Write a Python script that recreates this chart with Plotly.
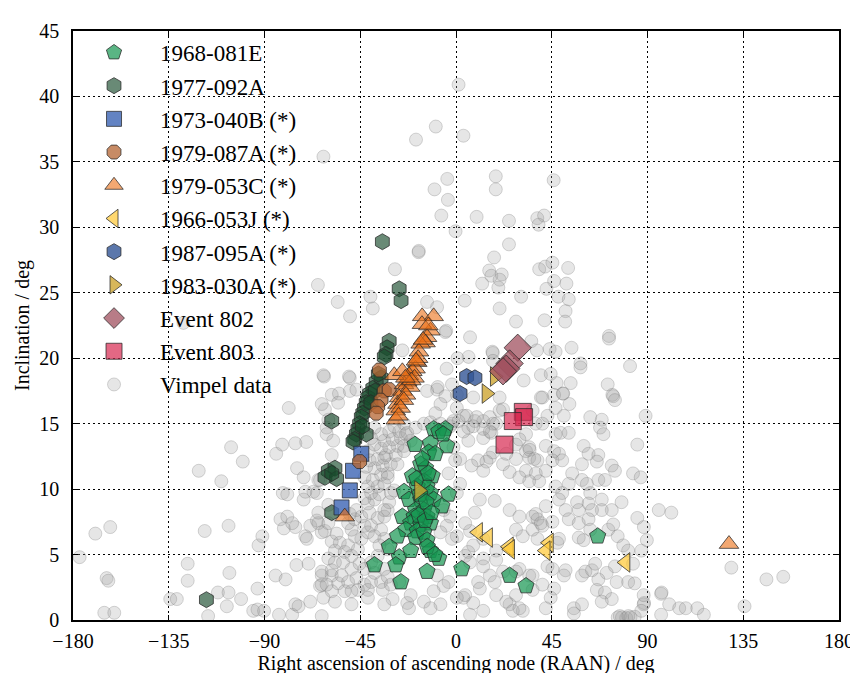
import plotly.graph_objects as go

# ---------------- data (RAAN deg, inclination deg) ----------------
obj_1968_081E = [(-10.5,14.6),(-5.0,14.6),(-8.1,14.4),(-19.3,13.4),(-12.0,13.5),(-4.3,13.3),(-12.8,12.8),
    (-9.7,12.7),(-16.6,11.9),(-14.3,11.6),(-20.5,11.0),(-11.2,11.0),(-15.1,10.6),(-18.2,10.2),(-13.6,10.2),
    (-12.0,9.7),(-3.5,9.6),(-24.4,9.8),(-22.1,9.2),(-16.6,9.2),(-10.5,9.2),(-6.6,8.7),(-19.0,8.4),(-15.1,8.4),
    (-25.2,7.9),(-19.7,7.9),(-13.6,7.9),(-21.3,7.4),(-16.6,7.3),(-12.0,7.4),(-23.6,6.9),(-18.2,6.8),(-27.5,6.4),
    (-19.0,6.3),(-15.1,6.7),(-13.6,6.1),(-26.7,4.8),(-31.4,5.6),(-21.3,5.3),(-12.0,5.3),(-28.3,4.2),(-38.3,4.2),
    (-13.6,3.7),(-8.1,4.7),(2.7,3.9),(-25.9,2.9),(25.2,3.4),(32.9,2.6),(66.6,6.4),(-17.0,9.6),(-14.0,9.0),
    (-17.5,8.0),(-14.5,7.6),(-11.5,8.2),(-18.5,10.8),(-13.0,11.2),(-15.8,12.3),(-13.5,5.6),(-10.0,5.0),(-6.0,14.2)]
obj_1977_092A = [(-34.6,28.9),(-26.7,25.3),(-25.8,24.4),(-31.4,21.3),(-32.4,20.8),(-32.9,20.3),(-33.7,20.1),
    (-35.2,18.5),(-37.5,18.2),(-39.1,17.7),(-40.6,17.3),(-41.4,17.0),(-42.2,16.6),(-43.0,16.2),(-43.8,15.8),
    (-44.5,15.5),(-45.3,15.0),(-46.1,14.6),(-46.8,14.2),(-47.6,13.8),(-42.2,14.2),(-48.4,13.6),(-58.4,15.2),
    (-60.0,11.4),(-56.9,11.6),(-61.6,10.9),(-56.1,10.8),(-58.4,8.2),(-58.4,11.2),(-117.3,1.55),(-36.5,18.8),
    (-38.0,17.5),(-40.0,16.6),(-44.0,14.8)]
obj_1973_040B = [(-44.5,12.7),(-48.4,11.4),(-49.9,9.9),(-53.8,8.6)]
obj_1979_087A = [(-36.0,19.1),(-33.7,17.5),(-35.2,16.8),(-36.8,16.3),(-37.5,15.8),(-31.4,17.6),(-45.3,12.1)]
obj_1979_053C = [(-15.9,23.2),(-10.5,23.2),(-12.0,22.1),(-13.6,21.6),(-14.3,21.2),(-16.6,21.1),(-17.4,20.5),
    (-18.2,19.7),(-19.0,19.2),(-20.5,19.0),(-22.1,18.7),(-22.9,18.2),(-24.4,18.0),(-25.2,17.5),(-26.7,17.0),
    (-27.5,16.5),(-28.3,16.0),(-29.0,18.7),(-25.2,19.0),(-28.3,15.3),(-52.3,7.9),(128.3,5.8),(-16.0,22.6),
    (-13.0,22.5),(-17.8,20.0),(-19.5,18.5),(-21.5,17.8),(-23.5,17.2),(-24.5,16.8),(-26.0,16.2),(-27.0,15.6),
    (-18.8,19.8),(-21.0,18.3),(-15.5,21.4),(-23.8,18.5)]
obj_1966_053J = [(10.4,6.7),(15.1,6.3),(24.9,5.6),(25.5,5.4),(43.7,5.9),(42.2,5.3),(79.7,4.4)]
obj_1987_095A = [(5.0,18.6),(8.9,18.5),(1.9,17.3)]
obj_1983_030A = [(18.2,18.6),(14.3,17.3),(-17.4,9.9)]
event_802 = [(29.0,20.8),(25.2,19.6),(23.6,19.2),(22.1,19.0)]
event_803 = [(31.4,15.9),(32.0,15.5),(26.7,15.2),(22.8,13.4)]

vimpel = [
 (1.2,40.9),(3.5,37.0),(-9.5,37.7),(-18.8,36.7),(-62.3,35.4),(-4.1,33.7),(-10.1,32.9),(18.7,33.9),(18.7,32.9),
 (-3.8,32.1),(-6.9,30.9),(9.7,30.8),(24.9,30.5),(38.2,30.7),(41.4,30.9),(38.8,30.2),(45.9,33.6),(-0.2,29.7),
 (-17.6,28.1),(-17.5,28.2),(24.9,28.7),(17.9,27.7),(15.6,26.7),(16.6,26.3),(21.5,26.4),(20.5,26.0),(12.3,25.7),
 (19.9,25.4),(39.1,26.8),(41.9,27.0),(45.3,27.3),(52.7,26.9),(46.1,25.9),(51.9,25.7),(42.5,25.3),(48.1,24.7),
 (53.0,24.5),(30.6,24.7),(4.1,24.4),(20.5,23.8),(51.5,23.6),(51.3,22.8),(41.6,22.9),(28.2,22.8),(-5.0,22.0),
 (-4.6,22.1),(6.6,21.6),(35.4,21.3),(38.0,20.6),(44.0,20.7),(46.8,20.5),(54.3,20.8),(71.9,21.7),(71.9,21.5),
 (58.5,19.6),(58.5,19.3),(81.8,19.4),(17.1,20.5),(17.3,20.4),(0.7,20.0),(5.9,20.1),(-4.4,19.2),(-1.9,18.0),
 (-8.9,17.6),(-8.6,17.8),(39.9,18.7),(44.5,18.8),(31.8,18.3),(47.3,18.1),(53.9,18.1),(71.3,18.0),(73.5,17.2),
 (50.4,17.3),(40.6,17.0),(-13.6,24.3),(-8.9,23.9),(-28.7,26.8),(-64.9,25.6),(-55.6,24.3),(-40.2,24.7),
 (-39.1,23.8),(-49.8,23.2),(-62.0,18.6),(-49.9,18.5),(-25.2,20.6),(-128.1,22.7),(17.4,19.8),
 (-176.9,4.8),(-169.5,6.6),(-162.5,7.1),(-164.2,3.2),(-163.4,3.0),(-165.3,0.55),(-160.6,0.55),(-120.9,11.4),
 (-126.1,4.3),(-126.1,3.0),(-134.3,1.6),(-131.2,1.6),(-118.1,6.8),(-116.5,0.3),(-111.9,2.1),(-110.3,10.6),
 (-106.9,7.2),(-106.9,2.1),(-106.5,3.6),(-107.7,1.05),(-105.7,13.2),(-101.0,1.6),(-100.2,12.1),(-95.3,0.7),
 (-93.3,0.8),(-93.3,2.4),(-92.8,5.7),(-91.0,6.4),(-90.2,0.7),(-84.8,3.4),(-84.5,12.7),(-83.2,0.4),(-82.5,7.7),
 (-81.7,13.4),(-81.4,9.7),(-80.9,7.0),(-80.1,3.1),(-78.6,16.2),(-75.5,13.5),(-75.5,7.1),(-75.5,1.2),(-75.0,4.2),
 (-74.7,11.6),(-71.6,10.9),(-71.6,9.2),(-70.8,6.4),(-70.4,13.6),(-69.3,4.3),(-68.5,1.4),(-67.0,9.8),(-64.7,10.7),
 (-79.3,9.6),(-79.3,7.9),(-77.0,7.4),(-68.5,7.2),(-65.4,7.6),(-65.4,9.7),(-70.8,9.8),(-70.1,6.2),(-77.0,0.4),
 (-74.0,1.05),(-63.1,0.3),(-63.9,2.6),(-63.1,3.4),
 (-64.7,7.4),(-64.7,8.2),(-61.6,6.8),(-60.0,8.8),(-58.4,6.0),(-56.9,5.3),(-60.0,4.7),(-56.9,4.4),(-63.1,3.7),
 (-58.4,3.4),(-63.1,2.7),(-55.4,2.8),(-58.4,2.2),(-62.3,1.7),(-58.4,12.6),(-60.8,14.7),(-60.0,15.3),(-61.6,16.1),
 (-63.1,16.5),(-58.4,17.2),(-55.0,17.3),(-55.4,16.6),(-49.9,17.5),(-50.3,18.6),(-62.3,18.7),(-46.8,17.6),
 (-60.8,14.2),(-57.7,13.7),(-63.9,10.7),
 (-63.1,6.7),(-60.0,7.4),(-56.1,6.6),(-54.6,5.9),(-50.7,5.7),(-52.3,5.2),(-49.1,4.9),(-46.1,5.4),(-44.5,6.2),
 (-41.4,6.7),(-43.0,7.2),(-39.9,7.2),(-38.3,6.4),(-47.6,6.4),(-49.1,6.9),(-50.7,7.4),(-47.6,7.7),(-44.5,7.9),
 (-40.6,8.2),(-46.8,8.4),(-49.9,8.1),(-41.4,8.9),(-38.3,9.2),(-43.0,9.3),(-39.9,9.7),(-36.0,9.6),(-41.4,10.2),
 (-36.8,10.2),(-33.7,10.4),(-39.1,10.7),(-43.0,10.9),(-35.2,11.1),(-32.1,11.2),(-38.3,11.6),(-42.2,11.7),
 (-34.4,11.8),(-30.6,11.9),(-40.6,12.2),(-36.8,12.3),(-32.9,12.6),(-28.3,12.6),(-35.2,13.1),(-31.4,13.2),
 (-27.5,13.3),(-38.3,13.4),(-33.7,13.7),(-29.8,13.8),(-25.9,13.9),(-35.2,14.2),(-31.4,14.4),(-26.7,14.4),
 (-23.6,14.2),(-29.0,14.8),(-24.4,15.0),(-21.3,13.7),(-24.4,13.3),(-38.3,14.7),(-39.9,13.9),(-41.4,12.9),
 (-58.4,3.8),(-53.1,4.4),(-53.8,3.4),(-49.1,3.9),(-45.3,4.3),(-50.7,2.9),(-46.8,3.2),(-60.8,2.7),(-52.3,2.2),
 (-43.0,2.7),(-39.9,2.9),(-41.4,2.3),(-46.1,2.3),(-49.1,2.2),(-35.2,2.9),(-34.4,2.3),(-29.8,1.6),(-22.9,1.3),
 (-22.1,0.9),(-43.0,3.9),(-39.9,4.4),(-36.8,4.9),(-33.7,3.9),(-38.3,3.6),(-32.1,3.3),(-30.6,2.7),(-26.7,2.9),
 (-21.3,1.9),(-32.1,5.4),(-33.7,6.2),(-36.0,5.7),(-35.2,6.9),(-36.8,7.8),(-33.7,7.9),(-32.1,8.4),(-31.4,9.0),
 (-30.6,9.7),(-24.4,12.9),(-33.7,12.4),(-27.5,11.9),(-32.1,10.9),(-29.0,9.9),(-33.7,8.4),(-19.0,14.7),
 (-15.1,15.0),(-12.0,15.1),(-7.3,15.0),(-2.7,14.8),(-22.9,14.3),(-41.4,1.7),(-49.1,1.2),(-56.9,1.4),
 (-33.7,1.2),(-15.1,1.4),(-7.3,1.2),
 (-5.0,17.1),(-13.6,17.5),(-7.3,16.5),(-9.7,15.8),(0.4,17.2),(0.4,16.2),(-1.2,15.2),(3.5,15.6),(8.9,15.2),
 (12.8,15.2),(5.8,14.7),(15.9,15.5),(20.5,16.0),(18.9,15.0),(5.8,13.7),(12.8,13.9),(16.6,14.3),(1.9,12.3),
 (10.4,12.2),(15.9,12.4),(22.1,11.9),(28.2,13.4),(32.9,12.9),(34.4,12.4),(38.3,12.2),(11.2,9.2),(6.6,6.8),
 (12.8,6.2),(0.4,6.4),(4.3,4.9),(12.8,4.7),(18.9,5.3),(10.4,2.9),(15.9,3.4),(22.1,3.7),(29.8,3.9),(34.4,3.4),
 (28.2,1.9),(18.9,1.9),(3.5,1.7),(6.6,0.4),(31.4,0.7),(25.2,1.2),
 (8.1,17.0),(20.5,17.0),(22.1,16.1),(5.0,15.6),(9.7,15.5),(17.4,15.0),(1.2,15.2),(-1.9,15.0),(3.5,14.4),
 (12.8,14.6),(8.1,14.8),(15.9,14.4),(36.0,16.0),(39.9,17.0),(43.0,15.6),(37.5,15.0),(32.9,14.2),(29.8,13.8),
 (34.4,13.2),(34.6,13.0),(36.8,12.3),(28.2,12.3),(23.6,12.7),(17.4,12.8),(14.3,12.1),(7.3,11.8),(12.8,11.4),
 (25.2,11.3),(32.9,11.4),(37.5,11.2),(39.1,10.6),(34.4,10.6),(29.8,10.9),(1.9,10.4),(0.4,9.7),(-3.5,11.2),
 (-0.4,12.2),(-1.2,13.2),(18.2,9.1),(25.2,8.4),(29.8,7.9),(28.2,6.9),(31.4,6.4),(36.0,7.9),(38.3,7.7),
 (36.0,6.9),(40.6,7.2),(8.9,8.2),(4.3,7.4),(8.1,5.7),(5.8,5.2),(6.6,4.4),(12.8,4.1),(18.9,4.6),(18.2,2.9),
 (11.2,2.4),(4.3,1.9),(-3.5,2.9),(-5.8,2.6),(-10.5,2.2),(-12.0,0.9),(0.4,1.7),(8.1,1.3),(12.8,0.7),(23.6,1.4),
 (26.7,0.7),(29.8,0.9),(36.0,2.3),(40.6,2.7),(36.0,3.4),(28.2,3.7),(45.3,3.9),(-15.1,9.2),(-5.8,8.4),
 (-2.7,7.9),(-4.3,7.2),(-7.3,6.7),(-1.9,6.2),(-8.9,3.4),(46.1,17.2),(46.8,14.2),(46.1,12.9),
 (50.2,17.3),(53.3,16.5),(63.1,15.5),(68.5,15.3),(73.9,17.1),(74.7,16.8),(89.1,15.6),(46.8,16.2),(50.7,15.6),
 (40.6,15.0),(49.1,14.3),(53.0,14.3),(67.7,14.7),(69.3,14.2),(60.0,13.3),(85.2,13.4),(42.2,13.3),(62.3,12.7),
 (66.9,12.6),(66.2,12.1),(59.2,11.9),(48.4,12.7),(45.3,12.2),(49.9,12.2),(42.2,11.4),(73.2,11.8),(74.7,11.4),
 (83.2,11.2),(86.8,10.9),(54.6,11.2),(59.2,10.7),(61.5,10.4),(66.9,10.7),(70.0,10.7),(46.8,10.2),(53.0,10.4),
 (49.9,9.7),(48.4,9.2),(56.9,9.0),(63.1,9.7),(62.3,8.9),(68.5,9.2),(77.8,9.0),(73.2,8.4),(68.5,8.4),(63.9,8.4),
 (57.7,8.4),(51.5,8.4),(42.2,8.7),(37.5,8.1),(39.9,7.4),(45.3,7.5),(53.0,7.7),(57.7,7.4),(62.3,7.7),(63.1,6.9),
 (57.7,6.3),(60.0,6.1),(47.6,5.9),(48.4,6.2),(38.3,6.2),(71.6,6.9),(73.9,7.3),(76.0,6.4),(78.6,5.7),(80.9,5.3),
 (85.2,7.8),(88.3,7.1),(89.7,6.1),(95.3,8.4),(101.2,8.2),(87.1,5.3),(83.2,4.3),(74.7,4.1),(70.8,3.6),(66.9,3.1),
 (66.2,2.3),(70.0,2.1),(73.2,1.6),(68.5,1.4),(75.5,2.9),(80.9,2.9),(84.0,2.8),(59.2,3.4),(60.8,3.7),(63.9,3.8),
 (65.4,4.3),(51.5,3.8),(50.7,3.4),(46.1,2.4),(55.4,0.9),(55.4,0.5),(59.2,1.2),(43.0,4.1),(88.2,1.2),(88.4,1.3),
 (88.2,1.9),(96.4,2.0),(96.6,2.1),(100.2,1.2),(104.9,0.9),(108.0,0.9),(113.4,0.9),(116.5,0.4),(96.4,0.4),
 (129.4,4.0),(135.6,1.05),(145.9,3.1),(153.8,3.3),(76.0,0.2),(78.0,0.2),(80.0,0.15),(82.0,0.2),(84.0,0.25),
 (77.0,0.3),(81.0,0.3),(87.1,0.7),(44.5,1.7),(42.2,0.9)]

x_ticks = [-180, -135, -90, -45, 0, 45, 90, 135, 180]
y_ticks = [0, 5, 10, 15, 20, 25, 30, 35, 40, 45]

FONT = "Liberation Serif, Times New Roman, serif"

fig = go.Figure()

def add(points, name, symbol, fill, size, rank, line_col="rgba(40,40,40,0.75)", lw=1):
    fig.add_trace(go.Scatter(
        x=[p[0] for p in points], y=[p[1] for p in points], mode="markers", name=name,
        legendrank=rank, legendgroup=name,
        marker=dict(symbol=symbol, size=size, color=fill, line=dict(color=line_col, width=lw))))

add(vimpel, "Vimpel data", "circle", "rgba(160,160,160,0.26)", 13, 11,
    line_col="rgba(110,110,110,0.28)")
add(obj_1968_081E, "1968-081E", "pentagon", "rgba(20,150,80,0.7)", 17, 1)
add(obj_1977_092A, "1977-092A", "hexagon", "rgba(25,75,45,0.65)", 16, 2)
add(obj_1973_040B, "1973-040B (*)", "square", "rgba(60,100,180,0.8)", 15, 3)
add(obj_1979_087A, "1979-087A (*)", "octagon", "rgba(180,100,50,0.75)", 15, 4)
add(obj_1979_053C, "1979-053C (*)", "triangle-up", "rgba(235,110,20,0.6)", 17, 5)
add(obj_1966_053J, "1966-053J (*)", "triangle-left", "rgba(255,200,50,0.7)", 17, 6)
add(obj_1987_095A, "1987-095A (*)", "hexagon", "rgba(50,85,150,0.8)", 16, 7)
add(obj_1983_030A, "1983-030A (*)", "triangle-right", "rgba(205,165,50,0.8)", 17, 8)
add(event_802, "Event 802", "diamond", "rgba(160,80,95,0.75)", 21, 9)
add(event_803, "Event 803", "square", "rgba(215,40,80,0.7)", 17, 10)

axis_common = dict(
    showline=True, linecolor="black", linewidth=1.5, mirror="ticks",
    ticks="inside", ticklen=5, tickcolor="black", tickwidth=1,
    showgrid=True, gridcolor="black", gridwidth=1, griddash="2px,3px",
    zeroline=False, tickfont=dict(family=FONT, size=20, color="black"),
    title_font=dict(family=FONT, size=20, color="black"),
)

fig.update_xaxes(range=[-180, 180], tickvals=x_ticks, title_text="Right ascension of ascending node (RAAN) / deg",
                 title_standoff=3, ticklabelstandoff=2, **axis_common)
fig.update_yaxes(range=[0, 45], tickvals=y_ticks, title_text="Inclination / deg", title_standoff=4,
                 ticklabelstandoff=8, **axis_common)

fig.update_layout(
    width=858, height=673, plot_bgcolor="white", paper_bgcolor="white",
    margin=dict(l=65, r=18, t=20, b=54),
    font=dict(family=FONT, color="black"),
    legend=dict(x=-0.0065, y=1.0, xanchor="left", yanchor="top", bgcolor="rgba(0,0,0,0)",
                borderwidth=0, font=dict(family=FONT, size=23, color="black"),
                tracegroupgap=0.3, itemwidth=82),
    showlegend=True,
)

fig.write_html("out.html")
